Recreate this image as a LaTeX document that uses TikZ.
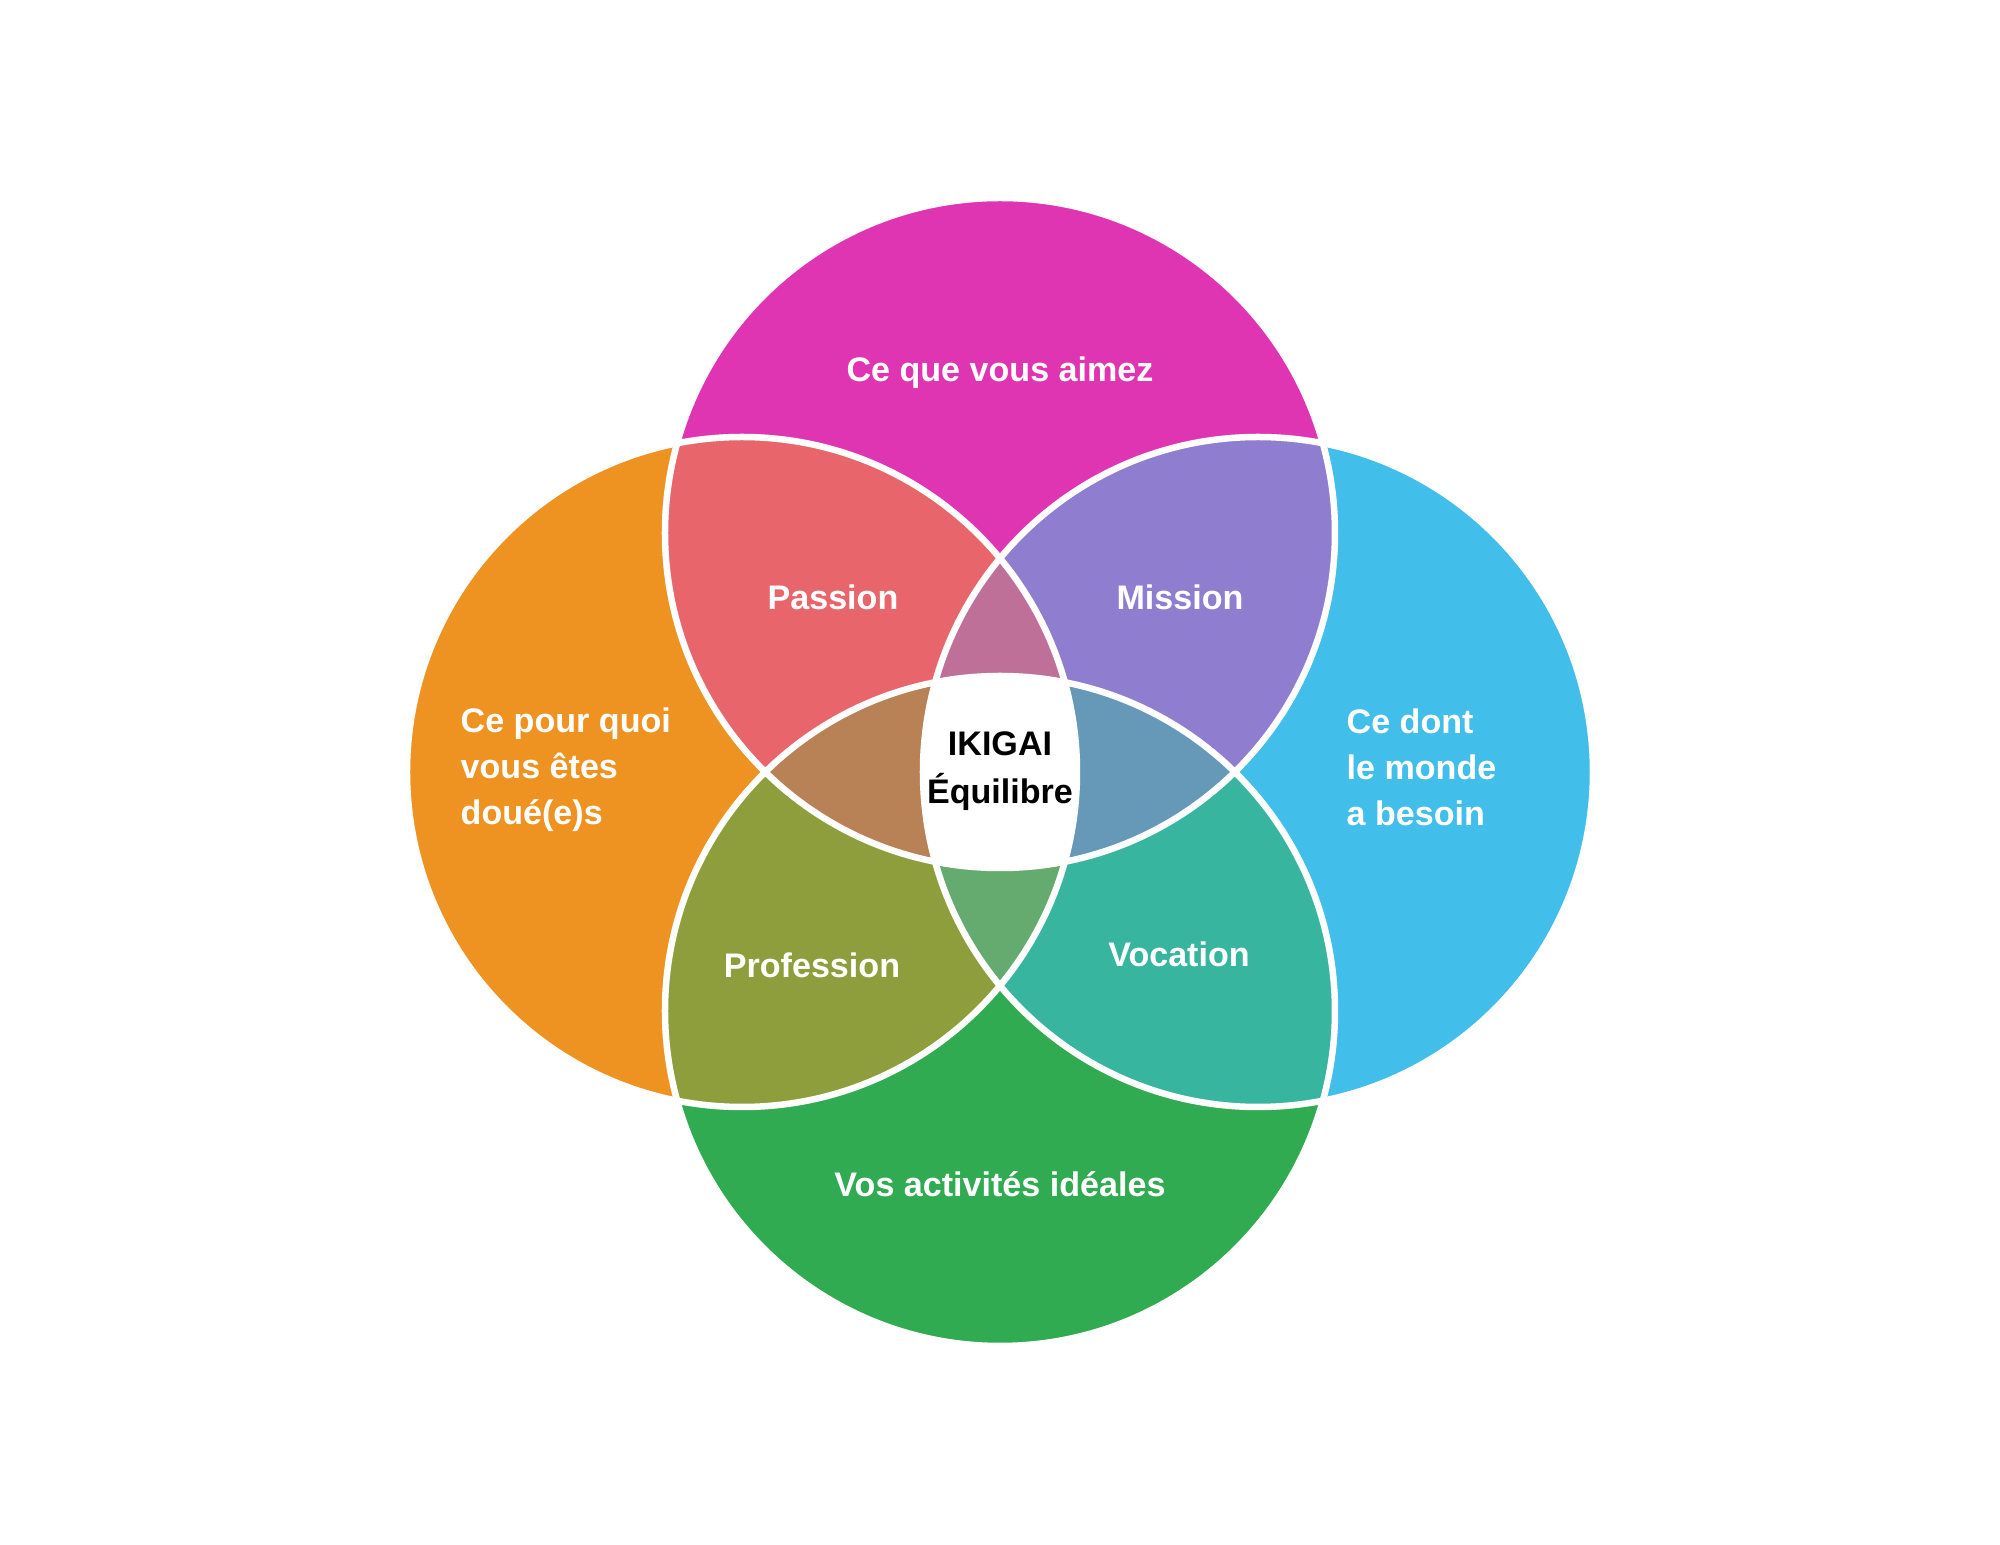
\documentclass[tikz,border=0pt]{standalone}
\usepackage{fontspec}
\setmainfont{Liberation Sans}
\definecolor{aimezC}{HTML}{E035B2}
\definecolor{doueC}{HTML}{EE9322}
\definecolor{mondeC}{HTML}{41BEEA}
\definecolor{idealC}{HTML}{31AB51}
\definecolor{passionC}{HTML}{E8666B}
\definecolor{missionC}{HTML}{8F7ED0}
\definecolor{professionC}{HTML}{8F9E3D}
\definecolor{vocationC}{HTML}{38B59F}
\definecolor{hautC}{HTML}{BE7099}
\definecolor{gaucheC}{HTML}{B98156}
\definecolor{droiteC}{HTML}{6699B8}
\definecolor{basC}{HTML}{65AA6E}
\newcommand{\rad}{3.35}

\begin{document}
\begin{tikzpicture}[
    lbl/.style={text=white, inner sep=0pt, font=\fontsize{9.7}{13.1}\selectfont\bfseries},
    ring/.style={draw=white, line width=1.85pt}]
  \useasboundingbox (-10,-7.75) rectangle (10,7.70);

  \coordinate (g) at (-2.58,-0.02);
  \coordinate (d) at (2.58,-0.02);
  \coordinate (h) at (0,2.37);
  \coordinate (b) at (0,-2.41);

  % grands cercles
  \fill[doueC] (g) circle (\rad);
  \fill[mondeC] (d) circle (\rad);
  \fill[aimezC] (h) circle (\rad);
  \fill[idealC] (b) circle (\rad);

  % zones doubles
  \begin{scope} \clip (g) circle (\rad); \fill[passionC] (h) circle (\rad); \end{scope}
  \begin{scope} \clip (d) circle (\rad); \fill[missionC] (h) circle (\rad); \end{scope}
  \begin{scope} \clip (g) circle (\rad); \fill[professionC] (b) circle (\rad); \end{scope}
  \begin{scope} \clip (d) circle (\rad); \fill[vocationC] (b) circle (\rad); \end{scope}

  % zones triples
  \begin{scope} \clip (g) circle (\rad); \clip (d) circle (\rad); \fill[hautC] (h) circle (\rad); \end{scope}
  \begin{scope} \clip (g) circle (\rad); \clip (d) circle (\rad); \fill[basC] (b) circle (\rad); \end{scope}
  \begin{scope} \clip (h) circle (\rad); \clip (b) circle (\rad); \fill[gaucheC] (g) circle (\rad); \end{scope}
  \begin{scope} \clip (h) circle (\rad); \clip (b) circle (\rad); \fill[droiteC] (d) circle (\rad); \end{scope}

  % centre
  \begin{scope}
    \clip (g) circle (\rad); \clip (d) circle (\rad); \clip (h) circle (\rad);
    \fill[white] (b) circle (\rad);
  \end{scope}

  \foreach \c in {g,d,h,b}
    \draw[ring] (\c) circle (\rad);

  \node[lbl, anchor=base] (aimez) at (0,3.88) {Ce que vous aimez};
  \node[lbl, anchor=base] (ideal) at (0,-4.27) {Vos activités idéales};
  \node[lbl, anchor=west, align=left] (doue) at (-5.40,0) {Ce pour quoi\\vous êtes\\doué(e)s};
  \node[lbl, anchor=west, align=left] (monde) at (3.46,0.03) {Ce dont\\le monde\\a besoin};
  \node[lbl, anchor=base] (passion) at (-1.67,1.60) {Passion};
  \node[lbl, anchor=base] (mission) at (1.80,1.60) {Mission};
  \node[lbl, anchor=base] (profession) at (-1.88,-2.08) {Profession};
  \node[lbl, anchor=base] (vocation) at (1.79,-1.97) {Vocation};
  \node[lbl, text=black, align=center, font=\fontsize{9.7}{13.6}\selectfont\bfseries] (ikigai) at (0,-0.01) {IKIGAI\\Équilibre};
\end{tikzpicture}
\end{document}
